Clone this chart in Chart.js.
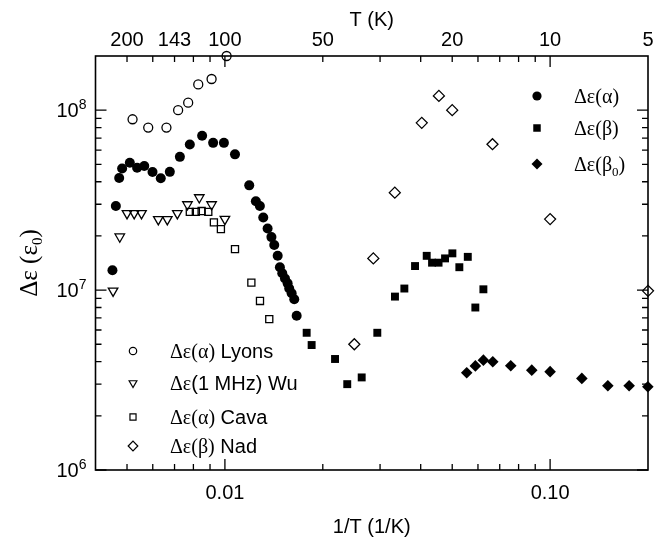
<!DOCTYPE html>
<html>
<head>
<meta charset="utf-8">
<script src="https://cdn.jsdelivr.net/npm/chart.js@4"></script>
<style>
  html, body { margin: 0; padding: 0; background: #fff; }
  #chart { display: block; }
</style>
</head>
<body>
<canvas id="chart" width="672" height="539"></canvas>
<script>
// values: x = 1/T (1/K), y = delta epsilon (eps0)
const alphaX = [0.00451, 0.00462, 0.00473, 0.00483, 0.0051, 0.00537, 0.00565, 0.00599, 0.00635, 0.00677, 0.00727, 0.0078, 0.00851, 0.0092, 0.00993, 0.01074,
  0.01188, 0.01245, 0.01281, 0.01312, 0.01353, 0.0139, 0.01418, 0.01453, 0.01476, 0.01501, 0.0153, 0.01559, 0.01577, 0.01604, 0.01634, 0.01662];
const alphaY = [1.29e7, 2.93e7, 4.2e7, 4.74e7, 5.1e7, 4.78e7, 4.89e7, 4.53e7, 4.18e7, 4.54e7, 5.5e7, 6.44e7, 7.2e7, 6.58e7, 6.58e7, 5.68e7,
  3.82e7, 3.12e7, 2.93e7, 2.53e7, 2.2e7, 1.97e7, 1.78e7, 1.55e7, 1.34e7, 1.24e7, 1.16e7, 1.09e7, 1.02e7, 9.6e6, 8.9e6, 7.2e6];

const betaX = [0.01784, 0.01848, 0.02181, 0.02378, 0.02634, 0.02942, 0.03334, 0.03563, 0.03843, 0.04174, 0.04335, 0.04539, 0.04753, 0.05006, 0.05259, 0.05583, 0.0589, 0.06235];
const betaY = [5.79e6, 4.95e6, 4.14e6, 3.0e6, 3.27e6, 5.79e6, 9.2e6, 1.02e7, 1.36e7, 1.55e7, 1.42e7, 1.42e7, 1.5e7, 1.6e7, 1.34e7, 1.53e7, 8.0e6, 1.01e7];

const beta0X = [0.05541, 0.05891, 0.06235, 0.06664, 0.07568, 0.08783, 0.1, 0.1252, 0.1505, 0.175, 0.1998];
const beta0Y = [3.47e6, 3.79e6, 4.08e6, 4.0e6, 3.8e6, 3.59e6, 3.52e6, 3.23e6, 2.94e6, 2.94e6, 2.9e6];

const lyonsX = [0.0052, 0.00581, 0.00661, 0.00718, 0.00771, 0.00828, 0.0091, 0.01012];
const lyonsY = [8.9e7, 8.0e7, 8.0e7, 1.0e8, 1.1e8, 1.39e8, 1.49e8, 2.0e8];

const wuX = [0.00453, 0.00475, 0.005, 0.00526, 0.00554, 0.00624, 0.00665, 0.00714, 0.00767, 0.00834, 0.0091, 0.01];
const wuY = [9.9e6, 1.98e7, 2.67e7, 2.67e7, 2.67e7, 2.47e7, 2.47e7, 2.67e7, 2.99e7, 3.27e7, 2.99e7, 2.48e7];

const cavaX = [0.0078, 0.00814, 0.00848, 0.00889, 0.00925, 0.00972, 0.01074, 0.01206, 0.01282, 0.01369];
const cavaY = [2.72e7, 2.72e7, 2.75e7, 2.72e7, 2.38e7, 2.18e7, 1.69e7, 1.1e7, 8.7e6, 6.9e6];

const nadX = [0.025, 0.0286, 0.0333, 0.0403, 0.0455, 0.05, 0.0665, 0.1, 0.2];
const nadY = [5.0e6, 1.5e7, 3.48e7, 8.5e7, 1.2e8, 1.0e8, 6.47e7, 2.48e7, 9.9e6];

// ticks
const xMinorTicks = [0.005, 0.006, 0.007, 0.008, 0.009, 0.02, 0.03, 0.04, 0.05, 0.06, 0.07, 0.08, 0.09];
const xMajorTicks = [0.01, 0.1];
const xTickLabels = ['0.01', '0.10'];
const topTickValues = [0.005, 0.007, 0.01, 0.02, 0.05, 0.1, 0.2];
const topTickLabels = ['200', '143', '100', '50', '20', '10', '5'];
const yMajorTicks = [1e6, 1e7, 1e8];
const yTickExponents = ['6', '7', '8'];
const yMinorTicks = [2e6, 3e6, 4e6, 5e6, 6e6, 7e6, 8e6, 9e6, 2e7, 3e7, 4e7, 5e7, 6e7, 7e7, 8e7, 9e7];

const SANS = '"Liberation Sans", Arial, Helvetica, sans-serif';
const SERIF = '"Liberation Serif", "Times New Roman", serif';

const zip = (xs, ys) => xs.map((v, i) => ({ x: v, y: ys[i] }));

const filled = { backgroundColor: '#000', borderColor: '#000', borderWidth: 0 };
const open = { backgroundColor: 'rgba(0,0,0,0)', borderColor: '#000', borderWidth: 1.3 };

const series = [
  { label: 'Δε(α)', data: zip(alphaX, alphaY), pointStyle: 'circle', pointRadius: 5, ...filled },
  { label: 'Δε(β)', data: zip(betaX, betaY), pointStyle: 'rect', pointRadius: 5.6, ...filled },
  { label: 'Δε(β0)', data: zip(beta0X, beta0Y), pointStyle: 'rectRot', pointRadius: 5.8, ...filled },
  { label: 'Δε(α) Lyons', data: zip(lyonsX, lyonsY), pointStyle: 'circle', pointRadius: 4.5, ...open },
  { label: 'Δε(1 MHz) Wu', data: zip(wuX, wuY), pointStyle: 'triangle', pointRotation: 180, pointRadius: 5.5, ...open },
  { label: 'Δε(α) Cava', data: zip(cavaX, cavaY), pointStyle: 'rect', pointRadius: 5, ...open },
  { label: 'Δε(β) Nad', data: zip(nadX, nadY), pointStyle: 'rectRot', pointRadius: 5.5, ...open }
];
series.forEach(s => { s.showLine = false; s.clip = false; s.pointHoverRadius = s.pointRadius; });

// draw text made of several runs (font switches, sub/superscripts)
function drawRuns(ctx, x, y, runs, align) {
  let total = 0;
  runs.forEach(r => { ctx.font = r.font; r.w = ctx.measureText(r.t).width; total += r.w; });
  let cx = align === 'center' ? x - total / 2 : align === 'right' ? x - total : x;
  ctx.textAlign = 'left';
  runs.forEach(r => {
    ctx.font = r.font;
    ctx.fillText(r.t, cx, y + (r.dy || 0));
    cx += r.w;
  });
}

function marker(ctx, style, x, y, radius, isFilled, rotation) {
  ctx.fillStyle = isFilled ? '#000' : 'rgba(0,0,0,0)';
  ctx.strokeStyle = '#000';
  ctx.lineWidth = 1.2;
  Chart.helpers.drawPoint(ctx, { pointStyle: style, radius: radius, rotation: rotation || 0, borderWidth: isFilled ? 0 : 1.2 }, x, y);
}

const frame = {
  id: 'frame',
  beforeDatasetsDraw(chart) {
    const { ctx, chartArea: a, scales: { x, y } } = chart;
    ctx.save();
    ctx.strokeStyle = '#000';
    ctx.lineWidth = 1.6;
    ctx.strokeRect(a.left, a.top, a.right - a.left, a.bottom - a.top);

    ctx.lineWidth = 1.3;
    ctx.beginPath();
    const seg = (x1, y1, x2, y2) => { ctx.moveTo(x1, y1); ctx.lineTo(x2, y2); };
    xMinorTicks.forEach(v => { const p = x.getPixelForValue(v); seg(p, a.bottom, p, a.bottom - 6); seg(p, a.top, p, a.top + 6); });
    xMajorTicks.forEach(v => { const p = x.getPixelForValue(v); seg(p, a.bottom, p, a.bottom - 11); seg(p, a.top, p, a.top + 11); });
    yMinorTicks.forEach(v => { const p = y.getPixelForValue(v); seg(a.left, p, a.left + 6, p); seg(a.right, p, a.right - 6, p); });
    yMajorTicks.forEach(v => { const p = y.getPixelForValue(v); seg(a.left, p, a.left + 11, p); seg(a.right, p, a.right - 11, p); });
    ctx.stroke();

    ctx.fillStyle = '#000';
    ctx.textBaseline = 'alphabetic';
    ctx.font = '20px ' + SANS;
    ctx.textAlign = 'center';
    xMajorTicks.forEach((v, i) => ctx.fillText(xTickLabels[i], x.getPixelForValue(v), a.bottom + 29));
    topTickValues.forEach((v, i) => ctx.fillText(topTickLabels[i], x.getPixelForValue(v), a.top - 10));
    yMajorTicks.forEach((v, i) => {
      const p = y.getPixelForValue(v);
      drawRuns(ctx, a.left - 9, p + 7, [
        { t: '10', font: '20px ' + SANS },
        { t: yTickExponents[i], font: '14px ' + SANS, dy: -8 }
      ], 'right');
    });

    // axis titles
    ctx.font = '20px ' + SANS;
    ctx.textAlign = 'center';
    const mid = (a.left + a.right) / 2;
    ctx.fillText('1/T (1/K)', mid, 533);
    ctx.fillText('T (K)', mid, 26);

    ctx.save();
    ctx.translate(37, (a.top + a.bottom) / 2);
    ctx.rotate(-Math.PI / 2);
    drawRuns(ctx, 0, 0, [
      { t: 'Δε (ε', font: '25px ' + SERIF },
      { t: '0', font: '15px ' + SERIF, dy: 5 },
      { t: ')', font: '25px ' + SERIF }
    ], 'center');
    ctx.restore();
    ctx.restore();
  },
  afterDatasetsDraw(chart) {
    const { ctx } = chart;
    ctx.save();
    ctx.textBaseline = 'alphabetic';

    // upper right key
    marker(ctx, 'circle', 537, 96, 4.6, true);
    marker(ctx, 'rect', 537, 128, 5.3, true);
    marker(ctx, 'rectRot', 537, 164, 5.5, true);
    ctx.fillStyle = '#000';
    drawRuns(ctx, 574, 103, [{ t: 'Δε(α)', font: '20px ' + SERIF }]);
    drawRuns(ctx, 574, 135, [{ t: 'Δε(β)', font: '20px ' + SERIF }]);
    drawRuns(ctx, 574, 171, [
      { t: 'Δε(β', font: '20px ' + SERIF },
      { t: '0', font: '13px ' + SERIF, dy: 5 },
      { t: ')', font: '20px ' + SERIF }
    ]);

    // lower left key
    marker(ctx, 'circle', 133, 351, 3.7, false);
    marker(ctx, 'triangle', 133, 383, 4.5, false, 180);
    marker(ctx, 'rect', 133, 417, 4.3, false);
    marker(ctx, 'rectRot', 133, 446, 4.8, false);
    ctx.fillStyle = '#000';
    drawRuns(ctx, 170, 358, [{ t: 'Δε(α)', font: '20px ' + SERIF }, { t: ' Lyons', font: '20px ' + SANS }]);
    drawRuns(ctx, 170, 390, [{ t: 'Δε', font: '20px ' + SERIF }, { t: '(1 MHz) Wu', font: '20px ' + SANS }]);
    drawRuns(ctx, 170, 424, [{ t: 'Δε(α)', font: '20px ' + SERIF }, { t: ' Cava', font: '20px ' + SANS }]);
    drawRuns(ctx, 170, 453, [{ t: 'Δε(β)', font: '20px ' + SERIF }, { t: ' Nad', font: '20px ' + SANS }]);
    ctx.restore();
  }
};

new Chart(document.getElementById('chart'), {
  type: 'scatter',
  data: { datasets: series },
  options: {
    responsive: false,
    animation: false,
    events: [],
    layout: { padding: { left: 95.5, right: 24, top: 56, bottom: 69 } },
    plugins: { legend: { display: false }, tooltip: { enabled: false } },
    scales: {
      x: { type: 'logarithmic', min: 0.004, max: 0.2, display: false },
      y: { type: 'logarithmic', min: 1e6, max: 2e8, display: false }
    }
  },
  plugins: [frame]
});
</script>
</body>
</html>
